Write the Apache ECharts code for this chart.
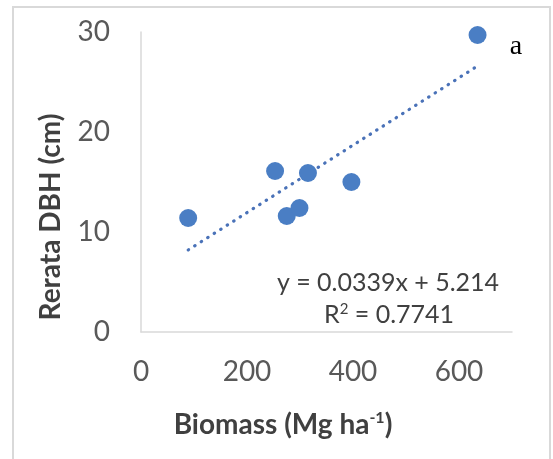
<!DOCTYPE html>
<html>
<head>
<meta charset="utf-8">
<script src="https://cdn.jsdelivr.net/npm/echarts@6/dist/echarts.min.js"></script>
<style>
html,body{margin:0;padding:0;background:#fff;}
#chart{width:553px;height:459px;}
</style>
</head>
<body>
<div id="chart"></div>
<script>
// Data
const biomass = [89, 253, 275, 299, 315, 397, 635];
const dbh = [11.4, 16.1, 11.6, 12.4, 15.9, 15.0, 29.7];
const trendX = [89, 632];
const trendY = [8.2, 26.5];
const xTicks = [0, 200, 400, 600];
const yTicks = [0, 10, 20, 30];
const equationText = 'y = 0.0339x + 5.214';
const r2Value = '0.7741';
const panelLabel = 'a';

const points = biomass.map((v, i) => [v, dbh[i]]);
const trend = trendX.map((v, i) => [v, trendY[i]]);

const chart = echarts.init(document.getElementById('chart'), null, {renderer: 'canvas'});
const fontFam = 'Lato, "Open Sans", sans-serif';
chart.setOption({
  animation: false,
  backgroundColor: '#ffffff',
  grid: {left: 141, right: 41, top: 32, bottom: 127, containLabel: false},
  xAxis: {
    type: 'value', min: 0, max: 700, interval: 200,
    axisLine: {show: true, lineStyle: {color: '#d9d9d9', width: 1.5}},
    axisTick: {show: false},
    splitLine: {show: false},
    axisLabel: {
      showMaxLabel: false, margin: 26, color: '#595959', fontSize: 28, fontFamily: fontFam,
      formatter: v => xTicks.includes(v) ? String(v) : ''
    }
  },
  yAxis: {
    type: 'value', min: 0, max: 30, interval: 10,
    axisLine: {show: true, lineStyle: {color: '#d9d9d9', width: 1.5}},
    axisTick: {show: false},
    splitLine: {show: false},
    axisLabel: {
      margin: 31, color: '#595959', fontSize: 28, fontFamily: fontFam,
      formatter: v => yTicks.includes(v) ? String(v) : ''
    }
  },
  series: [
    {
      type: 'line', data: trend, symbol: 'none', silent: true, z: 1,
      lineStyle: {color: '#4a72b8', width: 3.2, type: [0.5, 7.2], cap: 'round'}
    },
    {
      type: 'scatter', data: points, symbolSize: 18, z: 2,
      itemStyle: {color: '#4a7ec4', opacity: 1}
    }
  ],
  graphic: [
    {type: 'rect', shape: {x: 13, y: 7, width: 537, height: 480},
     style: {fill: 'none', stroke: '#d9d9d9', lineWidth: 2}, z: -10, silent: true},
    {type: 'text', x: 283, y: 425,
     style: {
       text: '{t|Biomass (Mg ha}{s|-1}{t|)}', align: 'center', verticalAlign: 'middle',
       rich: {
         t: {fontSize: 28, fontWeight: 'bold', fill: '#404040', fontFamily: fontFam},
         s: {fontSize: 16, fontWeight: 'bold', fill: '#404040', fontFamily: fontFam, padding: [0, 0, 14, 0]}
       }
     }},
    {type: 'text', x: 51, y: 217, rotation: Math.PI / 2,
     style: {text: 'Rerata DBH (cm)', align: 'center', verticalAlign: 'middle',
       fontSize: 28, fontWeight: 'bold', fill: '#404040', fontFamily: fontFam}},
    {type: 'text', x: 388, y: 283,
     style: {text: equationText, align: 'center', verticalAlign: 'middle',
       fontSize: 25, fill: '#404040', fontFamily: fontFam}},
    {type: 'text', x: 389, y: 315,
     style: {
       text: '{t|R}{s|2}{t| = ' + r2Value + '}', align: 'center', verticalAlign: 'middle',
       rich: {
         t: {fontSize: 25, fill: '#404040', fontFamily: fontFam},
         s: {fontSize: 15, fill: '#404040', fontFamily: fontFam, padding: [0, 0, 11, 0]}
       }
     }},
    {type: 'text', x: 516, y: 47,
     style: {text: panelLabel, align: 'center', verticalAlign: 'middle',
       fontSize: 28, fill: '#000000', fontFamily: '"Liberation Serif", "DejaVu Serif", serif'}}
  ]
});
</script>
</body>
</html>
